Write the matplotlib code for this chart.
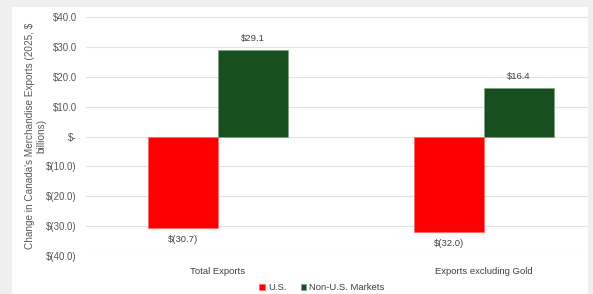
import numpy as np
import matplotlib.pyplot as plt
from matplotlib.patches import Rectangle

# --- Dados -----------------------------------------------------------------

categories = ["Total Exports", "Exports excluding Gold"]
us_values = [-30.7, -32.0]
non_us_values = [29.1, 16.4]
series_names = ["U.S.", "Non-U.S. Markets"]
y_ticks = [40, 30, 20, 10, 0, -10, -20, -30, -40]


def money(v):
    if v == 0:
        return "$-"
    if v < 0:
        return f"$({abs(v):.1f})"
    return f"${v:.1f}"


# --- Figura ----------------------------------------------------------------

plt.rcParams['font.family'] = ['Liberation Sans', 'DejaVu Sans']
fig = plt.figure(figsize=(5.93, 2.94), dpi=100, facecolor='#efefef')
fig.patches.append(Rectangle((12 / 593, 0), 576 / 593, 1 - 7 / 294,
                             transform=fig.transFigure, facecolor='white',
                             edgecolor='none', zorder=-5))

ax = fig.add_axes([86 / 593, 1 - 256 / 294, (588 - 86) / 593, (256 - 17) / 294])
ax.set_facecolor('none')
ax.set_zorder(2)

x = np.arange(len(categories))
w = 70 / 266
red = '#ff0000'
green = '#17501e'

b1 = ax.bar(x - w / 2, us_values, w, color=red, edgecolor='#ff6666', linewidth=0.5,
            label=series_names[0], zorder=3)
b2 = ax.bar(x + w / 2, non_us_values, w, color=green, edgecolor='#7f9f84', linewidth=0.5,
            label=series_names[1], zorder=3)

for bars, vals in ((b1, us_values), (b2, non_us_values)):
    for rect, v in zip(bars, vals):
        cx = rect.get_x() + rect.get_width() / 2
        if v >= 0:
            ax.annotate(money(v), (cx, v), xytext=(0, 5), textcoords='offset points',
                        ha='center', va='bottom', fontsize=6.8, color='#404040')
        else:
            ax.annotate(money(v), (cx, v), xytext=(0, -5), textcoords='offset points',
                        ha='center', va='top', fontsize=6.8, color='#404040')

ax.set_ylim(-40, 40)
ax.set_xlim((86 - 218) / 266, (588 - 218) / 266)
ax.set_yticks(y_ticks)
ax.set_yticklabels([money(v) for v in y_ticks], fontsize=7, color='#595959')
ax.grid(axis='y', color='#e3e3e3', linewidth=0.8, zorder=0)
ax.set_axisbelow(True)
ax.tick_params(axis='y', length=0, pad=6.5)
ax.tick_params(axis='x', length=0, pad=8)
ax.set_xticks(x)
ax.set_xticklabels(categories, fontsize=6.8, color='#404040')
for s in ax.spines.values():
    s.set_visible(False)

fig.text(36 / 593, 1 - 136 / 294,
         "Change in Canada's Merchandise Exports (2025, $\nbillions)",
         rotation=90, ha='center', va='center', multialignment='center',
         fontsize=7.2, color='#595959')

fig.legend(handles=[b1, b2], labels=series_names, loc='center',
           bbox_to_anchor=(322 / 593, 1 - 288 / 294), ncol=2, frameon=False,
           fontsize=6.8, handlelength=0.6, handleheight=0.6, handletextpad=0.3,
           columnspacing=1.5, labelcolor='#404040', borderpad=0.1)

fig.savefig("out.png", dpi=100, facecolor=fig.get_facecolor())
